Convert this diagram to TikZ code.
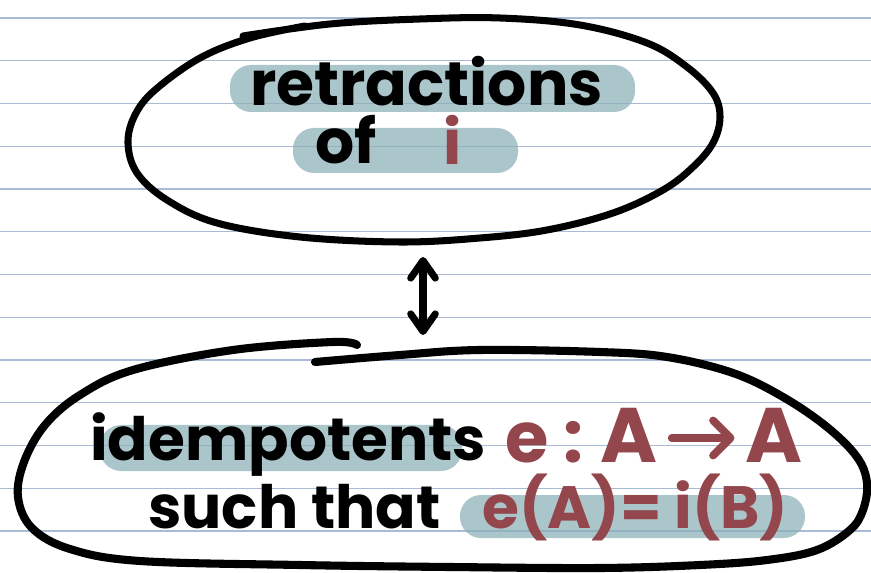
\documentclass[tikz,border=0pt]{standalone}
\usepackage{fontspec}
\setmainfont{Poppins}
\usetikzlibrary{arrows.meta}
\definecolor{rulecol}{RGB}{169,186,212}
\definecolor{hlcol}{RGB}{136,175,181}
\definecolor{inkred}{RGB}{148,70,77}
\tikzset{
  rule/.style={draw=rulecol, line width=0.8pt},
  hl/.style={fill=hlcol, fill opacity=0.7, rounded corners=12pt},
  loop/.style={line width=4pt, line cap=round, line join=round},
  word/.style={anchor=base west, inner sep=0pt, font=\fontsize{#1}{#1}\selectfont\bfseries},
  word/.default=34pt,
  redword/.style={word=#1, text=inkred},
  redword/.default=36pt,
  dbl/.style={line width=4pt, line cap=round,
    {Straight Barb[length=10pt,width=14pt,round]}-{Straight Barb[length=10pt,width=14pt,round]}},
  redarr/.style={inkred, line width=4.4pt, line cap=round,
    -{Straight Barb[length=10pt,width=20pt,round]}}
}
\begin{document}
\begin{tikzpicture}[x=0.02cm,y=-0.02cm]
            \fill[white] (0,0) rectangle (871,573);
            \useasboundingbox (0,0) rectangle (871,573);
            \foreach \k in {0,...,12}
                \draw[rule] (0,18+42.75*\k) -- (871,18+42.75*\k);
            % top loop
            \fill[hl] (230,65) rectangle (635,112);
            \fill[hl] (293,128) rectangle (518,173);
            \node[word=35pt] (retr) at (250,106) {retractions};
            \node[word=35pt] (of) at (315,164) {of};
            \node[redword=35pt] (iota) at (443,165) {i};
            \draw[loop] plot[smooth, tension=0.6] coordinates {(243,36) (330,24) (420,19) (500,18) (580,25) (647,43) (687,67) (713,93) (720,117) (713,143) (693,167) (663,190) (613,213) (547,230) (480,238) (400,242) (300,237) (217,223) (167,200) (137,173) (128,143) (135,115) (155,90) (200,58) (250,38) (305,26)};
            \coordinate (up) at (423,257);
            \coordinate (dn) at (423,335);
            \draw[dbl] (up) -- (dn);
            % bottom loop
            \fill[hl] (100,425) rectangle (462,471);
            \fill[hl] (460,495) rectangle (805,538);
            \node[word=34pt] (idem) at (90,460) {idempotents};
            \node[word=34pt] (such) at (148,528) {such that};
            \node[redword=40pt] (e) at (505,462) {e :};
            \node[redword=44pt] (srcA) at (600,462) {A};
            \node[redword=44pt] (tgtA) at (745,462) {A};
            \draw[redarr, shorten <=8pt, shorten >=6pt] (srcA.east |- 0,438) -- (tgtA.west |- 0,438);
            \node[redword=34pt] (eq) at (482,528) {e(A)= i(B)};
            \draw[loop, line width=4.6pt] plot[smooth, tension=0.6] coordinates {(315,362) (400,355) (480,350) (600,352) (667,357) (733,373) (783,397) (827,427) (857,457) (867,483) (863,510) (850,530) (817,550) (767,560) (700,565) (600,568) (450,567) (300,565) (140,561) (70,549) (32,528) (18,497) (24,462) (45,425) (80,395) (133,370) (233,350) (333,342) (357,345)};
        \end{tikzpicture}
\end{document}
